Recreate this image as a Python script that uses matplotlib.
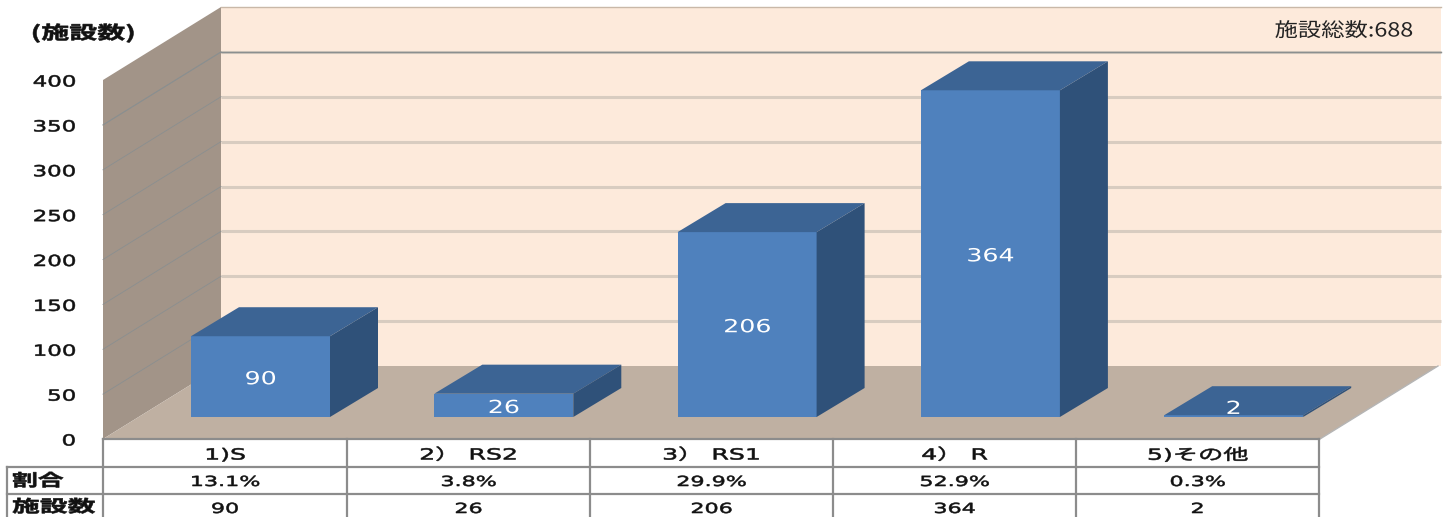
import matplotlib
matplotlib.use("Agg")
import matplotlib.pyplot as plt
from matplotlib.patches import Polygon
from matplotlib.patheffects import AbstractPathEffect
from matplotlib.transforms import Affine2D

plt.rcParams['font.family'] = ['DejaVu Sans', 'Noto Sans CJK JP']

categories = ["1)S", "2） RS2", "3） RS1", "4） R", "5)その他"]
counts = [90, 26, 206, 364, 2]
shares = ["13.1%", "3.8%", "29.9%", "52.9%", "0.3%"]
yticks = [0, 50, 100, 150, 200, 250, 300, 350, 400]
row_names = ["割合", "施設数"]
total_label = "施設総数:688"
unit_label = "(施設数)"

W, H = 1446, 517
PX_PER_UNIT = 0.8975
STEP = 243.3
BAR_W = 139 / STEP
DEPTH_X = 48 / STEP
DEPTH_Y = 29 / PX_PER_UNIT
INK = "#111111"
CJK = ["Noto Sans CJK JP", "DejaVu Sans"]


class Widen(AbstractPathEffect):
    # the reference text is squashed sideways, so stretch glyphs about x (pixels)
    def __init__(self, x, k, lw):
        super().__init__()
        self.x, self.k, self.lw = x, k, lw

    def draw_path(self, renderer, gc, tpath, affine, rgbFace=None):
        stretch = Affine2D().translate(-self.x, 0).scale(self.k, 1).translate(self.x, 0)
        gc.set_linewidth(self.lw)
        renderer.draw_path(gc, tpath, affine + stretch, rgbFace)


def label(a, x, y, s, k, px_x=None, lw=0.4, **kw):
    kw.setdefault("va", "center")
    kw.setdefault("color", INK)
    t = a.text(x, y, s, **kw)
    t.set_path_effects([Widen(x if px_x is None else px_x, k, lw)])
    return t


fig = plt.figure(figsize=(W / 100, H / 100), dpi=100)

# chrome of the fake 3d box, in pixels
bg = fig.add_axes([0, 0, 1, 1])
bg.set_xlim(0, W)
bg.set_ylim(H, 0)
bg.axis("off")

bg.add_patch(Polygon([(221, 7), (1441, 7), (1441, 366), (221, 366)], fc="#fdeadb", ec="none"))
bg.plot([221, 1441], [7, 7], color="#c9b8a8", lw=1)
bg.add_patch(Polygon([(103, 80), (221, 7), (221, 366), (103, 439)], fc="#a29488", ec="none"))
bg.add_patch(Polygon([(221, 366), (1438, 366), (1320, 439), (103, 439)], fc="#bfb0a2", ec="none"))
bg.plot([1320, 1438], [439, 366], color="#b5b5b5", lw=1)

for v in yticks[1:-1]:
    y_back = 366 - v * PX_PER_UNIT
    bg.plot([221, 1441], [y_back, y_back], color="#d8ccc0", lw=2.2, solid_capstyle="butt")
    bg.plot([103, 221], [y_back + 73, y_back], color="#8a8f90", lw=0.6)
bg.plot([221, 1441], [52, 52], color="#8b8f8f", lw=1)
bg.plot([103, 221], [125, 52], color="#8a8f90", lw=0.6)

for v in yticks:
    label(bg, 76, 441 - v * PX_PER_UNIT, str(v), 1.5, ha="right", fontsize=11)
label(bg, 83, 33, unit_label, 1.55, ha="center", fontsize=13, fontweight="bold", family=CJK)
label(bg, 1344, 31, total_label, 1.2, lw=0, ha="center", fontsize=14, color="#222222", family=CJK)

# table below the chart
col_x = [103, 347, 590, 833, 1076, 1319]
row_y = [439, 467, 494, 517]
table_c = "#8c8c8c"
bg.plot([7, 1319], [row_y[1], row_y[1]], color=table_c, lw=1.6)
bg.plot([7, 1319], [row_y[2], row_y[2]], color=table_c, lw=1.6)
bg.plot([7, 7], [row_y[1], H], color=table_c, lw=1.6)
for x in col_x:
    bg.plot([x, x], [row_y[0], H], color=table_c, lw=1.6)
bg.plot([103, 1319], [row_y[0], row_y[0]], color=table_c, lw=1.6)

for i in range(5):
    cx = (col_x[i] + col_x[i + 1]) / 2
    label(bg, cx, 455, categories[i], 1.65, ha="center", fontsize=11)
    label(bg, cx, 482, shares[i], 1.6, ha="center", fontsize=10)
    label(bg, cx, 509, str(counts[i]), 1.6, ha="center", fontsize=10)
label(bg, 12, 481, row_names[0], 1.55, ha="left", fontsize=12, fontweight="bold", family=CJK)
label(bg, 12, 507, row_names[1], 1.67, ha="left", fontsize=12, fontweight="bold", family=CJK)

# bars, in category / value units
ax = fig.add_axes([0, 0, 1, 1])
ax.patch.set_alpha(0)
ax.axis("off")
x0 = 260.5
ax.set_xlim((0 - x0) / STEP, (W - x0) / STEP)
ax.set_ylim((417 - H) / PX_PER_UNIT, 417 / PX_PER_UNIT)

xs = list(range(len(counts)))
ax.bar(xs, counts, width=BAR_W, color="#4f81bd", zorder=3)
for x, v in zip(xs, counts):
    l, r = x - BAR_W / 2, x + BAR_W / 2
    ax.add_patch(Polygon([(l, v), (r, v), (r + DEPTH_X, v + DEPTH_Y), (l + DEPTH_X, v + DEPTH_Y)],
                         fc="#3c6494", ec="none", zorder=3))
    ax.add_patch(Polygon([(r, 0), (r + DEPTH_X, DEPTH_Y), (r + DEPTH_X, v + DEPTH_Y), (r, v)],
                         fc="#2f5179", ec="none", zorder=3))
    label(ax, x, max(v / 2 - 3, 9), str(v), 1.4, px_x=x0 + x * STEP, lw=0, ha="center",
          fontsize=13, color="white", zorder=4)

fig.savefig("out.png", dpi=100)
